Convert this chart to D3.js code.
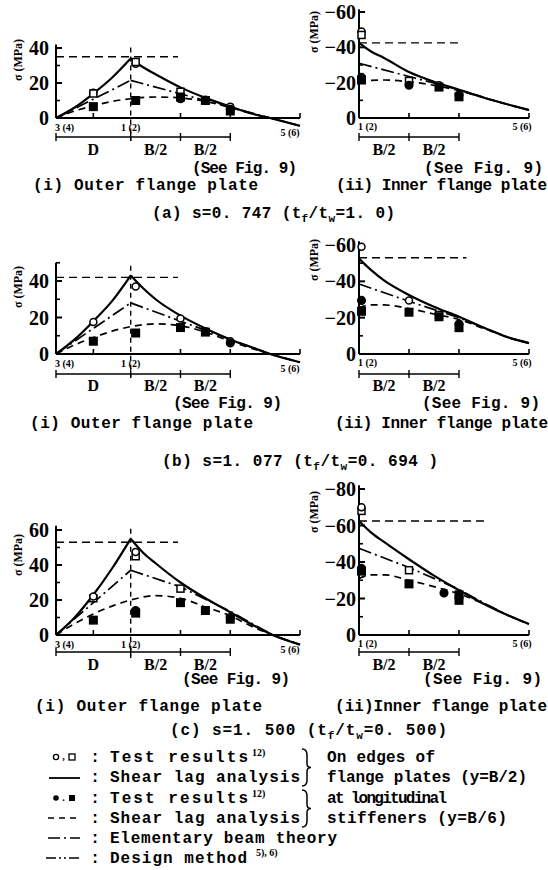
<!DOCTYPE html>
<html><head><meta charset="utf-8">
<script src="https://cdn.jsdelivr.net/npm/d3@7"></script>
<style>body{margin:0;background:#fff}svg{display:block}</style>
</head><body>
<svg id="c" width="548" height="870"></svg>
<script>
// ---------------- DATA ----------------
// x positions in units of B/2 measured from station 1(2); 3(4) = -D = -1.5, 5(6) = 3.4
const outerXDomain = [-1.5, 3.4];
const innerXDomain = [0, 3.4];
const outerTickX = [-0.75, 1, 2, 3.4];
const innerTickX = [1, 2, 3.4];
const stationLabels = ['3 (4)', '1 (2)', '5 (6)'];
const spanLabelsOuter = ['D', 'B/2', 'B/2'];
const spanLabelsInner = ['B/2', 'B/2'];

// (a) s = 0.747
const aOuterMajor = [0, 20, 40], aOuterMinor = [10, 30];
const aInnerMajor = [0, -20, -40, -60], aInnerMinor = [-10, -30, -50];
const aOuterEdge = [[-1.5,0],[-1.125,6],[-0.75,14],[-0.375,23],[0,34],[0.25,29],[0.5,25],[1,17.5],[1.5,11.5],[2,6.5],[2.5,2],[2.8,0],[3.4,-4.5]];
const aOuterStiff = [[-1.5,0],[-1.125,4],[-0.75,7],[-0.375,9.5],[0,11],[0.5,12],[1,11.5],[1.5,9.5],[2,6],[2.5,2],[2.8,0],[3.4,-4.5]];
const aOuterElem = [[-1.5,0],[0,21.5],[1,13.8],[2,6.2],[2.8,0],[3.4,-4.5]];
const aOuterDesign = [[-1.5,35],[0.95,35]];
const aOuterOpen = [[-0.75,14.5,'c'],[-0.75,14,'s'],[0.1,31,'c'],[0.1,32,'s'],[1,15,'s'],[1.5,10.5,'c'],[2,6.5,'c']];
const aOuterFilled = [[-0.75,6.5,'s'],[0.1,10,'s'],[1,11,'c'],[1,12,'s'],[1.5,10,'s'],[2,5,'c'],[2,4,'s']];
const aInnerEdge = [[0,-42.5],[0.25,-37.5],[0.5,-34],[1,-26],[1.5,-20.5],[2,-16],[2.5,-11.5],[3,-7.5],[3.4,-4.5]];
const aInnerStiff = [[0,-21],[0.5,-21.5],[1,-20.5],[1.5,-18.5],[2,-15.5],[2.5,-11.5],[3,-7.5],[3.4,-4.5]];
const aInnerElem = [[0,-31],[1,-23.5],[2,-16],[2.5,-11.5],[3,-7.5],[3.4,-4.5]];
const aInnerDesign = [[0,-42.5],[2,-42.5]];
const aInnerOpen = [[0.05,-49,'c'],[0.05,-47,'s'],[1,-21,'s'],[1.6,-18.5,'c']];
const aInnerFilled = [[0.05,-23,'c'],[0.05,-21.5,'s'],[1,-18.5,'c'],[1.6,-17.5,'s'],[2,-12,'s'],[2,-13,'c']];

// (b) s = 1.077
const bOuterMajor = [0, 20, 40], bOuterMinor = [10, 30, 50];
const bInnerMajor = [0, -20, -40, -60], bInnerMinor = [-10, -30, -50];
const bOuterEdge = [[-1.5,0],[-1.125,8],[-0.75,18],[-0.375,29],[0,43],[0.25,36],[0.5,30],[1,21],[1.5,14],[2,8],[2.5,3],[2.8,0],[3.4,-4.5]];
const bOuterStiff = [[-1.5,0],[-1.125,5],[-0.75,9],[-0.375,12.5],[0,15],[0.5,16.5],[1,15.5],[1.5,12],[2,7],[2.5,2.5],[2.8,0],[3.4,-4.5]];
const bOuterElem = [[-1.5,0],[0,28],[1,18],[2,8],[2.8,0],[3.4,-4.5]];
const bOuterDesign = [[-1.5,42],[0.95,42]];
const bOuterOpen = [[-0.75,17.5,'c'],[0.1,37,'c'],[1,19.5,'c'],[1.5,12.5,'c'],[2,7,'c']];
const bOuterFilled = [[-0.75,7,'s'],[0.1,11.5,'s'],[1,14.5,'s'],[1.5,12,'s'],[2,6,'c']];
const bInnerEdge = [[0,-52.5],[0.25,-46],[0.5,-40.5],[1,-32.5],[1.5,-26],[2,-20.5],[2.5,-14.5],[3,-9],[3.4,-6]];
const bInnerStiff = [[0,-25.5],[0.25,-27],[0.5,-27],[1,-25],[1.5,-22],[2,-19],[2.5,-14],[3,-9],[3.4,-6]];
const bInnerElem = [[0,-38.5],[1,-29],[2,-20],[2.5,-14.5],[3,-9],[3.4,-6]];
const bInnerDesign = [[0,-53],[2.15,-53]];
const bInnerOpen = [[0.05,-59,'c'],[1,-29.5,'c'],[1.6,-21.5,'s']];
const bInnerFilled = [[0.05,-29.5,'c'],[0.05,-23.5,'s'],[1,-23,'s'],[1.6,-20.5,'s'],[2,-14.5,'s'],[2,-16.5,'c']];

// (c) s = 1.500
const cOuterMajor = [0, 20, 40, 60], cOuterMinor = [10, 30, 50];
const cInnerMajor = [0, -20, -40, -60, -80], cInnerMinor = [-10, -30, -50, -70];
const cOuterEdge = [[-1.5,0],[-1.125,10],[-0.75,23],[-0.375,38],[0,55],[0.25,47],[0.5,41],[1,30],[1.5,21],[2,13],[2.5,5],[2.85,0],[3.4,-5.5]];
const cOuterStiff = [[-1.5,0],[-1.125,6.5],[-0.75,12],[-0.375,16.5],[0,20],[0.5,22.5],[1,21],[1.5,16],[2,11],[2.5,4],[2.85,0],[3.4,-5.5]];
const cOuterElem = [[-1.5,0],[0,37],[1,27.5],[2,13.5],[2.85,0],[3.4,-5.5]];
const cOuterDesign = [[-1.5,53],[0.95,53]];
const cOuterOpen = [[-0.75,21,'s'],[-0.75,22,'c'],[0.1,45,'s'],[0.1,47.5,'c'],[1,26.5,'s']];
const cOuterFilled = [[-0.75,8.5,'s'],[0.1,12.5,'s'],[0.1,14,'c'],[1,18.5,'s'],[1.5,14,'s'],[2,10,'c'],[2,9,'s']];
const cInnerEdge = [[0,-62.5],[0.25,-56],[0.5,-51],[1,-41.5],[1.5,-32.5],[2,-24.5],[2.5,-17],[3,-10.5],[3.4,-6]];
const cInnerStiff = [[0,-31],[0.25,-33],[0.5,-33],[1,-30],[1.5,-26.5],[2,-22.5],[2.5,-17],[3,-10.5],[3.4,-6]];
const cInnerElem = [[0,-47.5],[1,-37],[2,-25],[2.5,-17.5],[3,-10.5],[3.4,-6]];
const cInnerDesign = [[0,-62.5],[2.6,-62.5]];
const cInnerOpen = [[0.05,-68,'s'],[0.05,-70,'c'],[1,-35.5,'s']];
const cInnerFilled = [[0.05,-36.5,'c'],[0.05,-35,'s'],[1,-28,'s'],[2,-19,'s'],[2,-22,'s'],[1.7,-23,'c']];

// texts
const titleParts = [
  ['(a) s=0. 747 (t', 'f', '/t', 'w', '=1. 0)'],
  ['(b) s=1. 077 (t', 'f', '/t', 'w', '=0. 694 )'],
  ['(c) s=1. 500 (t', 'f', '/t', 'w', '=0. 500)']
];
const outerCaptions = ['(i) Outer flange plate', '(i) Outer flange plate', '(i) Outer flange plate'];
const innerCaptions = ['(ii) Inner flange plate', '(ii) Inner flange plate', '(ii)Inner flange plate'];
const seeFig = '(See Fig. 9)';
const axisLabel = 'σ (MPa)';

const legendLabels = ['Test results', 'Shear lag analysis', 'Test results', 'Shear lag analysis', 'Elementary beam theory', 'Design method'];
const legendSup = ['12)', '', '12)', '', '', '5), 6)'];
const braceLabels = [['On edges of', 'flange plates (y=B/2)'], ['at longitudinal', 'stiffeners (y=B/6)']];

// ---------------- DRAWING ----------------
const FS = "'Liberation Serif','Times New Roman',serif";
const FM = "'Liberation Mono','DejaVu Sans Mono',monospace";
const svg = d3.select('#c');
const DASH = { stiff: '7,5', elem: '13,4,2,4', design: '8,5' };

function T(g, x, y, s, o = {}) {
  const t = g.append('text').attr('x', x).attr('y', y)
    .attr('font-family', o.ff || FM).attr('font-size', o.fs || 16)
    .attr('font-weight', o.fw || 'bold').attr('text-anchor', o.anchor || 'start')
    .attr('xml:space', 'preserve').style('white-space', 'pre').attr('fill', '#000').text(s);
  if (o.len) t.attr('textLength', o.len).attr('lengthAdjust', 'spacing');
  if (o.db) t.attr('dominant-baseline', o.db);
  return t;
}
function L(g, x1, y1, x2, y2, w = 2, dash = null) {
  const l = g.append('line').attr('x1', x1).attr('y1', y1).attr('x2', x2).attr('y2', y2)
    .attr('stroke', '#000').attr('stroke-width', w);
  if (dash) l.attr('stroke-dasharray', dash);
  return l;
}
function path(g, pts, x, y, w, dash, curve) {
  const gen = d3.line().x(d => x(d[0])).y(d => y(d[1])).curve(curve || d3.curveMonotoneX);
  const p = g.append('path').attr('d', gen(pts)).attr('fill', 'none').attr('stroke', '#000')
    .attr('stroke-width', w).attr('stroke-linejoin', 'round');
  if (dash) p.attr('stroke-dasharray', dash);
}
function markers(g, pts, x, y, filled) {
  pts.forEach(d => {
    const cx = x(d[0]), cy = y(d[1]);
    if (d[2] === 'c') {
      g.append('circle').attr('cx', cx).attr('cy', cy).attr('r', filled ? 3.8 : 3.5)
        .attr('fill', filled ? '#000' : '#fff').attr('stroke', '#000').attr('stroke-width', 1.5);
    } else {
      const s = filled ? 7.5 : 7;
      g.append('rect').attr('x', cx - s / 2).attr('y', cy - s / 2).attr('width', s).attr('height', s)
        .attr('fill', filled ? '#000' : '#fff').attr('stroke', '#000').attr('stroke-width', 1.5);
    }
  });
}
const leftOf = a => a.filter(d => d[0] <= 0);
const rightOf = a => a.filter(d => d[0] >= 0);

function yAxis(g, x0, y, major, minor, axisTop, labX) {
  L(g, x0, y(0), x0, y(axisTop), 2);
  major.forEach(v => {
    L(g, x0, y(v), x0 + 6, y(v), 2);
    T(g, labX, y(v), v < 0 ? '−' + Math.abs(v) : String(v), { ff: FS, fs: 20, anchor: 'end', db: 'central' });
  });
  minor.forEach(v => L(g, x0, y(v), x0 + 4, y(v), 1.6));
}

function drawPanel(cfg, D) {
  const g = svg.append('g');
  const base = cfg.base;
  // ---------- outer ----------
  const xo = d3.scaleLinear().domain(outerXDomain).range([56, 300]);
  const yo = d3.scaleLinear().domain([0, cfg.oTop[0]]).range([base, cfg.oTop[1]]);
  yAxis(g, xo(-1.5), yo, D.oMajor, D.oMinor, cfg.oAxisTop, 49);
  L(g, xo(-1.5), base, xo(3.4), base, 2);
  outerTickX.forEach(v => L(g, xo(v), base, xo(v), base - 5, 1.6));
  L(g, xo(0), yo(cfg.oAxisTop) + 3, xo(0), base + 23, 1.4, '5,4');
  T(g, xo(-1.5) - 1, base + 13, stationLabels[0], { ff: FS, fs: 10 });
  T(g, xo(0), base + 13, stationLabels[1], { ff: FS, fs: 10, anchor: 'middle' });
  T(g, xo(3.4) - 10, base + 18, stationLabels[2], { ff: FS, fs: 10, anchor: 'middle' });
  const my = base + cfg.mOff;
  L(g, xo(-1.5), my, xo(2), my, 1.4);
  [-1.5, 0, 1, 2].forEach(v => L(g, xo(v), my - 4, xo(v), my + 4, 1.4));
  [-0.75, 0.5, 1.5].forEach((v, i) => T(g, xo(v), base + cfg.lOff, spanLabelsOuter[i], { ff: FS, fs: 16, anchor: 'middle', db: 'central' }));
  T(g, 22, cfg.oSigY, axisLabel, { ff: FS, fs: 12, anchor: 'middle' }).attr('transform', `rotate(-90,22,${cfg.oSigY})`);

  path(g, D.oDesign, xo, yo, 1.4, DASH.design, d3.curveLinear);
  path(g, leftOf(D.oElem), xo, yo, 1.7, DASH.elem, d3.curveLinear);
  path(g, rightOf(D.oElem), xo, yo, 1.7, DASH.elem, d3.curveLinear);
  path(g, D.oStiff, xo, yo, 1.7, DASH.stiff, d3.curveMonotoneX);
  path(g, leftOf(D.oEdge), xo, yo, 2.2, null, d3.curveMonotoneX);
  path(g, rightOf(D.oEdge), xo, yo, 2.2, null, d3.curveMonotoneX);
  markers(g, D.oOpen, xo, yo, false);
  markers(g, D.oFilled, xo, yo, true);

  // ---------- inner ----------
  const xi = d3.scaleLinear().domain(innerXDomain).range([359, 529]);
  const yi = d3.scaleLinear().domain([0, cfg.iTop[0]]).range([base, cfg.iTop[1]]);
  yAxis(g, xi(0), yi, D.iMajor, D.iMinor, cfg.iAxisTop, 356);
  L(g, xi(0), base, xi(3.4), base, 2);
  innerTickX.forEach(v => L(g, xi(v), base, xi(v), base - 5, 1.6));
  T(g, xi(0) - 1, base + 12, stationLabels[1], { ff: FS, fs: 10 });
  T(g, xi(3.4) - 7, base + 12, stationLabels[2], { ff: FS, fs: 10, anchor: 'middle' });
  L(g, xi(0), my, xi(2), my, 1.4);
  [0, 1, 2].forEach(v => L(g, xi(v), my - 4, xi(v), my + 4, 1.4));
  [0.5, 1.5].forEach((v, i) => T(g, xi(v), base + cfg.lOff, spanLabelsInner[i], { ff: FS, fs: 16, anchor: 'middle', db: 'central' }));
  T(g, 318, cfg.iSigY, axisLabel, { ff: FS, fs: 12, anchor: 'middle' }).attr('transform', `rotate(-90,318,${cfg.iSigY})`);

  path(g, D.iDesign, xi, yi, 1.4, DASH.design, d3.curveLinear);
  path(g, D.iElem, xi, yi, 1.7, DASH.elem, d3.curveLinear);
  path(g, D.iStiff, xi, yi, 1.7, DASH.stiff, d3.curveMonotoneX);
  path(g, D.iEdge, xi, yi, 2.2, null, d3.curveMonotoneX);
  markers(g, D.iOpen, xi, yi, false);
  markers(g, D.iFilled, xi, yi, true);

  // ---------- captions ----------
  T(g, cfg.seeO[0], cfg.seeY, seeFig, { len: cfg.seeO[1] });
  T(g, cfg.seeI[0], cfg.seeY, seeFig, { len: cfg.seeI[1] });
  T(g, cfg.capO[0], cfg.capY, cfg.capOText, { len: cfg.capO[1] });
  T(g, cfg.capI[0], cfg.capY, cfg.capIText, { len: cfg.capI[1] });
  const tp = cfg.title;
  const t = g.append('text').attr('x', cfg.titleX[0]).attr('y', cfg.titleY)
    .attr('font-family', FM).attr('font-size', 16).attr('font-weight', 'bold')
    .attr('xml:space', 'preserve').style('white-space', 'pre')
    .attr('textLength', cfg.titleX[1]).attr('lengthAdjust', 'spacing');
  t.append('tspan').text(tp[0]);
  t.append('tspan').attr('dy', 4).attr('font-size', 11).text(tp[1]);
  t.append('tspan').attr('dy', -4).text(tp[2]);
  t.append('tspan').attr('dy', 4).attr('font-size', 11).text(tp[3]);
  t.append('tspan').attr('dy', -4).text(tp[4]);
}

drawPanel({ base: 118, oTop: [40, 48], oAxisTop: 42, iTop: [-60, 12], iAxisTop: -61.5,
  oSigY: 60, iSigY: 32, seeY: 173, capY: 190, titleY: 218, mOff: 19, lOff: 31,
  seeO: [192, 105], seeI: [424, 119], capO: [33, 225], capI: [336, 211],
  capOText: outerCaptions[0], capIText: innerCaptions[0], title: titleParts[0], titleX: [152, 243] },
  { oMajor: aOuterMajor, oMinor: aOuterMinor, iMajor: aInnerMajor, iMinor: aInnerMinor,
    oEdge: aOuterEdge, oStiff: aOuterStiff, oElem: aOuterElem, oDesign: aOuterDesign, oOpen: aOuterOpen, oFilled: aOuterFilled,
    iEdge: aInnerEdge, iStiff: aInnerStiff, iElem: aInnerElem, iDesign: aInnerDesign, iOpen: aInnerOpen, iFilled: aInnerFilled });

drawPanel({ base: 354, oTop: [40, 281], oAxisTop: 50, iTop: [-60, 245], iAxisTop: -62,
  oSigY: 287, iSigY: 260, seeY: 408, capY: 428, titleY: 466, mOff: 20, lOff: 31,
  seeO: [173, 109], seeI: [422, 118], capO: [30, 223], capI: [335, 213],
  capOText: outerCaptions[1], capIText: innerCaptions[1], title: titleParts[1], titleX: [162, 276] },
  { oMajor: bOuterMajor, oMinor: bOuterMinor, iMajor: bInnerMajor, iMinor: bInnerMinor,
    oEdge: bOuterEdge, oStiff: bOuterStiff, oElem: bOuterElem, oDesign: bOuterDesign, oOpen: bOuterOpen, oFilled: bOuterFilled,
    iEdge: bInnerEdge, iStiff: bInnerStiff, iElem: bInnerElem, iDesign: bInnerDesign, iOpen: bInnerOpen, iFilled: bInnerFilled });

drawPanel({ base: 635, oTop: [60, 530], oAxisTop: 62.5, iTop: [-80, 489], iAxisTop: -82,
  oSigY: 555, iSigY: 512, seeY: 684, capY: 711, titleY: 735, mOff: 17, lOff: 29,
  seeO: [182, 108], seeI: [423, 119], capO: [35, 227], capI: [335, 212],
  capOText: outerCaptions[2], capIText: innerCaptions[2], title: titleParts[2], titleX: [170, 277] },
  { oMajor: cOuterMajor, oMinor: cOuterMinor, iMajor: cInnerMajor, iMinor: cInnerMinor,
    oEdge: cOuterEdge, oStiff: cOuterStiff, oElem: cOuterElem, oDesign: cOuterDesign, oOpen: cOuterOpen, oFilled: cOuterFilled,
    iEdge: cInnerEdge, iStiff: cInnerStiff, iElem: cInnerElem, iDesign: cInnerDesign, iOpen: cInnerOpen, iFilled: cInnerFilled });

// ---------------- LEGEND ----------------
const lg = svg.append('g');
const rowY = [757, 777, 798, 818, 838, 858];
const labLen = [138, 190, 138, 190, 227, 137];
// symbols
lg.append('circle').attr('cx', 56).attr('cy', rowY[0]).attr('r', 2.6).attr('fill', '#fff').attr('stroke', '#000').attr('stroke-width', 1.3);
T(lg, 63.5, rowY[0] + 3, ',', { ff: FS, fs: 10, anchor: 'middle' });
lg.append('rect').attr('x', 69).attr('y', rowY[0] - 3).attr('width', 6).attr('height', 6).attr('fill', '#fff').attr('stroke', '#000').attr('stroke-width', 1.3);
L(lg, 49, rowY[1] + 1, 80, rowY[1] + 1, 1.8);
lg.append('circle').attr('cx', 56).attr('cy', rowY[2]).attr('r', 2.8).attr('fill', '#000');
T(lg, 63.5, rowY[2] + 3, '.', { ff: FS, fs: 10, anchor: 'middle' });
lg.append('rect').attr('x', 69).attr('y', rowY[2] - 3).attr('width', 6).attr('height', 6).attr('fill', '#000');
L(lg, 48, rowY[3], 80, rowY[3], 1.6, '6,5');
L(lg, 48, rowY[4], 80, rowY[4], 1.6, '12,4,2,4');
L(lg, 46, rowY[5], 80, rowY[5], 1.6, '10,3,2,3,2,3');
legendLabels.forEach((s, i) => {
  T(lg, 95, rowY[i] + 5, ':', { fs: 16, anchor: 'middle' });
  T(lg, 110, rowY[i] + 5, s, { len: labLen[i] });
});
T(lg, 252, rowY[0] - 1, legendSup[0], { ff: FS, fs: 10 });
T(lg, 252, rowY[2] - 1, legendSup[2], { ff: FS, fs: 10 });
T(lg, 256, rowY[5] - 2, legendSup[5], { ff: FS, fs: 10 });
// braces
function brace(x, y1, y2) {
  const m = (y1 + y2) / 2;
  lg.append('path').attr('d', `M${x},${y1} Q${x + 5},${y1} ${x + 5},${y1 + 6} L${x + 5},${m - 4} Q${x + 5},${m} ${x + 9},${m} Q${x + 5},${m} ${x + 5},${m + 4} L${x + 5},${y2 - 6} Q${x + 5},${y2} ${x},${y2}`)
    .attr('fill', 'none').attr('stroke', '#000').attr('stroke-width', 1.5);
}
brace(302, 749, 786);
brace(302, 790, 827);
const rightLen = [[108, 200], [120, 180]];
braceLabels.forEach((pair, i) => {
  T(lg, 327, rowY[i * 2] + 5, pair[0], { len: rightLen[i][0] });
  T(lg, 327, rowY[i * 2 + 1] + 5, pair[1], { len: rightLen[i][1] });
});
</script>
</body></html>
